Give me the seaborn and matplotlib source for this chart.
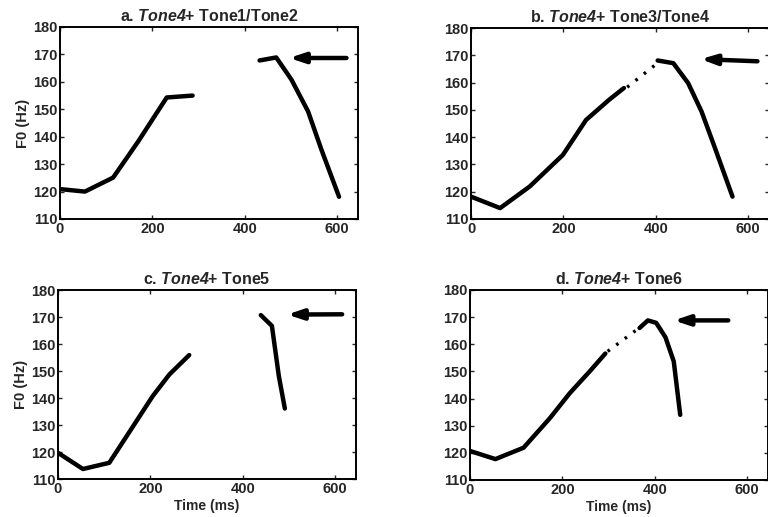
import matplotlib
matplotlib.use("Agg")
import matplotlib.pyplot as plt
import seaborn as sns
import pandas as pd

sns.set_style("ticks")
plt.rcParams['font.family'] = ['Liberation Sans', 'DejaVu Sans']
plt.rcParams['font.weight'] = 'bold'
plt.rcParams['mathtext.fontset'] = 'custom'
plt.rcParams['mathtext.it'] = 'Liberation Sans:italic:bold'
plt.rcParams['mathtext.rm'] = 'Liberation Sans:italic:bold'
plt.rcParams['mathtext.default'] = 'it'

# ---- data (time ms, F0 Hz) ----
titles = [r"a. $Tone4$+ Tone1/Tone2", r"b. $Tone4$+ Tone3/Tone4",
          r"c. $Tone4$+ Tone5", r"d. $Tone4$+ Tone6"]

a1_t = [0, 54, 115, 169, 231, 287]
a1_f = [120.9, 120.0, 125.1, 138.2, 154.3, 155.0]
a_dot_t = []
a_dot_f = []
a2_t = [432, 468, 501, 537, 566, 604]
a2_f = [167.8, 168.9, 160.8, 149.2, 135.2, 118.1]
a_arrow = [(620, 168.7), (496, 168.7)]

b1_t = [0, 63, 127, 199, 249, 299, 331]
b1_f = [118.2, 114.0, 121.9, 133.5, 146.3, 153.7, 158.0]
b_dot_t = [338, 399]
b_dot_f = [158.3, 166.5]
b2_t = [404, 438, 470, 499, 527, 566]
b2_f = [168.1, 167.1, 159.8, 149.4, 136.5, 118.2]
b_arrow = [(620, 167.8), (497, 168.6)]

c1_t = [0, 54, 111, 151, 205, 241, 284]
c1_f = [119.7, 113.7, 116.0, 126.5, 140.7, 148.7, 155.9]
c_dot_t = []
c_dot_f = []
c2_t = [439, 463, 478, 491]
c2_f = [170.7, 166.7, 148.1, 136.1]
c_arrow = [(615, 171.0), (496, 170.9)]

d1_t = [0, 55, 116, 173, 216, 259, 293]
d1_f = [120.7, 117.7, 121.9, 132.8, 142.0, 150.0, 156.6]
d_dot_t = [298, 362]
d_dot_f = [157.4, 165.5]
d2_t = [367, 385, 403, 423, 441, 455]
d2_f = [166.0, 168.8, 167.9, 162.6, 153.7, 134.0]
d_arrow = [(559, 168.8), (441, 168.8)]

panels = [
    (a1_t, a1_f, a_dot_t, a_dot_f, a2_t, a2_f, a_arrow),
    (b1_t, b1_f, b_dot_t, b_dot_f, b2_t, b2_f, b_arrow),
    (c1_t, c1_f, c_dot_t, c_dot_f, c2_t, c2_f, c_arrow),
    (d1_t, d1_f, d_dot_t, d_dot_f, d2_t, d2_f, d_arrow),
]

xticks = [0, 200, 400, 600]
yticks = [110, 120, 130, 140, 150, 160, 170, 180]

W, H = 768, 517
fig = plt.figure(figsize=(W / 100, H / 100), dpi=100)
fig.patch.set_facecolor('white')

# axes boxes in pixels: left, right, top, bottom
boxes = [(60, 358, 27, 219), (471, 769, 28, 219),
         (58, 356, 290, 479), (470, 768, 290, 480)]

for i, ((t1, f1, td, fd, t2, f2, arr), (l, r, tp, bt)) in enumerate(zip(panels, boxes)):
    ax = fig.add_axes([l / W, 1 - bt / H, (r - l) / W, (bt - tp) / H])
    ax.set_facecolor('white')
    sns.lineplot(x=t1, y=f1, ax=ax, color='black', lw=3.2, sort=False)
    sns.lineplot(x=t2, y=f2, ax=ax, color='black', lw=3.2, sort=False)
    if td:
        sns.lineplot(x=td, y=fd, ax=ax, color='black', lw=2.4, sort=False,
                     linestyle=(0, (0.8, 2.4)))
    ax.annotate('', xy=arr[1], xytext=arr[0],
                arrowprops=dict(arrowstyle='-|>,head_length=0.9,head_width=0.3',
                                color='black', lw=3.2, shrinkA=0, shrinkB=0))
    ax.set_xlim(0, 645)
    ax.set_ylim(110, 180)
    ax.set_xticks(xticks)
    ax.set_yticks(yticks)
    ax.tick_params(direction='in', top=True, right=True, length=3, width=1,
                   labelsize=10.5, pad=2)
    for lab in ax.get_xticklabels() + ax.get_yticklabels():
        lab.set_fontweight('bold')
    for s in ax.spines.values():
        s.set_linewidth(1.4)
        s.set_color('black')
    ax.set_title(titles[i], fontsize=11.5, fontweight='bold', pad=4)
    if i in (0, 2):
        ax.set_ylabel('F0 (Hz)', fontsize=10.5, fontweight='bold', labelpad=2)
    else:
        ax.set_ylabel('')
    if i in (2, 3):
        ax.set_xlabel('Time (ms)', fontsize=10, fontweight='bold', labelpad=2)
    else:
        ax.set_xlabel('')

fig.savefig('out.png', dpi=100, facecolor='white')
